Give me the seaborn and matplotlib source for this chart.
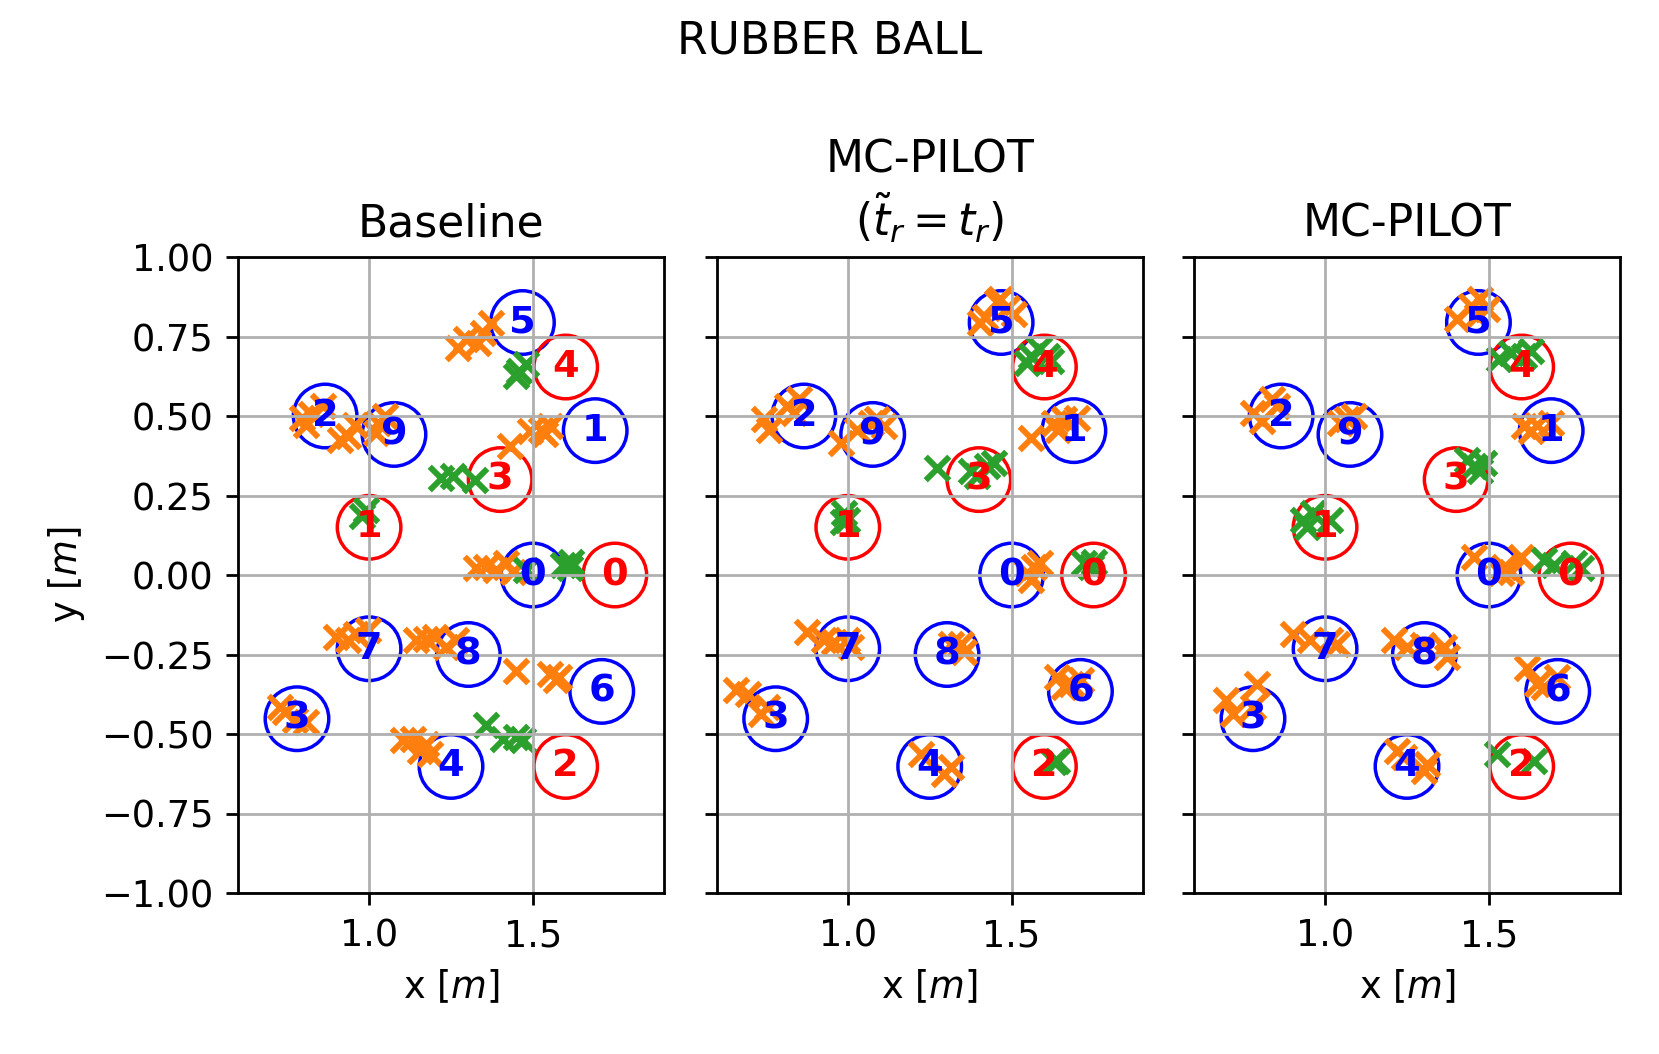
import matplotlib
matplotlib.use("Agg")
import matplotlib.pyplot as plt
import seaborn as sns
import pandas as pd

# ---------------- data ----------------
blue_ids = [0, 1, 2, 3, 4, 5, 6, 7, 8, 9]
blue_x = [1.50, 1.69, 0.866, 0.78, 1.25, 1.468, 1.71, 1.00, 1.303, 1.076]
blue_y = [0.00, 0.454, 0.50, -0.452, -0.602, 0.794, -0.366, -0.232, -0.25, 0.442]

red_ids = [0, 1, 2, 3, 4]
red_x = [1.75, 1.00, 1.60, 1.40, 1.60]
red_y = [0.00, 0.15, -0.602, 0.30, 0.654]

titles = ["Baseline", "MC-PILOT\n($\\tilde{t}_r = t_r$)", "MC-PILOT"]
ytick_vals = [-1.0, -0.75, -0.5, -0.25, 0.0, 0.25, 0.5, 0.75, 1.0]
ytick_labels = ["\u22121.00", "\u22120.75", "\u22120.50", "\u22120.25",
                "0.00", "0.25", "0.50", "0.75", "1.00"]
xtick_vals = [1.0, 1.5]

# Baseline
base_orange_x = [1.271, 1.297, 1.332, 1.348, 1.373,
                 0.794, 0.824, 0.860, 0.809, 0.911, 0.936, 0.956, 1.027, 1.048, 1.022,
                 1.429, 1.490, 1.525, 1.551, 1.536,
                 1.327, 1.358, 1.388, 1.419, 1.439,
                 0.900, 0.936, 0.961, 0.997,
                 1.144, 1.175, 1.200, 1.236, 1.266,
                 1.449, 1.551, 1.571, 1.581,
                 0.728, 0.743, 0.809, 0.773,
                 1.104, 1.134, 1.154, 1.185, 1.175]
base_orange_y = [0.715, 0.741, 0.731, 0.762, 0.794,
                 0.494, 0.505, 0.531, 0.473, 0.426, 0.436, 0.473, 0.478, 0.499, 0.447,
                 0.405, 0.452, 0.457, 0.468, 0.442,
                 0.021, 0.026, 0.016, 0.037, 0.011,
                 -0.195, -0.205, -0.184, -0.173,
                 -0.205, -0.200, -0.195, -0.226, -0.205,
                 -0.303, -0.310, -0.331, -0.321,
                 -0.415, -0.431, -0.463, -0.457,
                 -0.520, -0.515, -0.552, -0.563, -0.531]
base_green_x = [1.459, 1.480, 1.449, 1.221, 1.256, 1.322, 0.977, 0.992,
                1.480, 1.592, 1.617, 1.612, 1.358, 1.408, 1.449, 1.470]
base_green_y = [0.641, 0.662, 0.626, 0.305, 0.310, 0.300, 0.184, 0.205,
                0.016, 0.032, 0.042, 0.021, -0.473, -0.515, -0.510, -0.520]

# MC-PILOT (t~r = tr)
oracle_orange_x = [1.405, 1.456, 1.487, 1.507, 1.466, 1.420,
                   0.745, 0.760, 0.816, 0.852, 0.837,
                   0.979, 1.029, 1.090, 1.111, 1.070,
                   1.558, 1.629, 1.660, 1.700, 1.640,
                   1.548, 1.568, 1.588, 1.558,
                   0.877, 0.928, 0.958, 0.999, 1.009,
                   1.314, 1.355, 1.345,
                   1.639, 1.660, 1.680, 1.711,
                   0.658, 0.694, 0.735, 0.755,
                   1.223, 1.294, 1.314]
oracle_orange_y = [0.794, 0.857, 0.841, 0.820, 0.868, 0.810,
                   0.489, 0.457, 0.531, 0.552, 0.510,
                   0.415, 0.457, 0.489, 0.468, 0.478,
                   0.431, 0.478, 0.489, 0.494, 0.457,
                   0.005, 0.026, 0.037, -0.016,
                   -0.179, -0.205, -0.210, -0.205, -0.226,
                   -0.216, -0.242, -0.216,
                   -0.321, -0.352, -0.342, -0.331,
                   -0.363, -0.373, -0.436, -0.415,
                   -0.563, -0.626, -0.605]
oracle_green_x = [1.558, 1.583, 1.608, 1.548, 1.619,
                  1.273, 1.375, 1.426, 1.446, 1.395,
                  0.989, 0.999, 0.984,
                  1.720, 1.741, 1.751,
                  1.629, 1.639]
oracle_green_y = [0.689, 0.710, 0.689, 0.668, 0.673,
                  0.336, 0.326, 0.342, 0.352, 0.310,
                  0.195, 0.174, 0.168,
                  0.037, 0.026, 0.042,
                  -0.589, -0.584]

# MC-PILOT
mc_orange_x = [1.403, 1.444, 1.474, 1.495, 1.464,
               0.781, 0.806, 0.837, 0.852,
               1.046, 1.087, 1.066,
               1.607, 1.648, 1.689, 1.628,
               1.454, 1.546, 1.566, 1.597, 1.536,
               0.903, 0.954, 1.015, 1.036,
               1.209, 1.250, 1.362, 1.372, 1.300,
               1.617, 1.648, 1.668, 1.709,
               0.699, 0.720, 0.791, 0.781,
               1.219, 1.240, 1.301, 1.311]
mc_orange_y = [0.804, 0.846, 0.868, 0.836, 0.815,
               0.510, 0.484, 0.552, 0.531,
               0.478, 0.499, 0.489,
               0.468, 0.473, 0.478, 0.452,
               0.058, 0.026, 0.011, 0.058, 0.005,
               -0.184, -0.205, -0.205, -0.216,
               -0.205, -0.226, -0.226, -0.258, -0.220,
               -0.294, -0.342, -0.352, -0.321,
               -0.394, -0.436, -0.342, -0.415,
               -0.552, -0.573, -0.615, -0.594]
mc_green_x = [1.531, 1.566, 1.628, 1.607,
              1.434, 1.454, 1.474, 1.485,
              0.934, 0.964, 1.015, 0.944,
              1.668, 1.699, 1.760, 1.781,
              1.526, 1.638]
mc_green_y = [0.678, 0.699, 0.705, 0.689,
              0.363, 0.342, 0.326, 0.352,
              0.174, 0.195, 0.174, 0.152,
              0.047, 0.032, 0.037, 0.021,
              -0.563, -0.584]

panels = [
    (base_orange_x, base_orange_y, base_green_x, base_green_y),
    (oracle_orange_x, oracle_orange_y, oracle_green_x, oracle_green_y),
    (mc_orange_x, mc_orange_y, mc_green_x, mc_green_y),
]

# ---------------- figure ----------------
DPI = 250
fig = plt.figure(figsize=(1659 / DPI, 1054 / DPI), dpi=DPI)

W, H = 1659, 1054
lefts = [238, 716.7, 1194]
ax_w = 426
top_px, bot_px = 257, 893

FS = 10.6     # tick / label size
TFS = 12.7    # title size

blue_df = pd.DataFrame({"x": blue_x, "y": blue_y, "id": blue_ids})
red_df = pd.DataFrame({"x": red_x, "y": red_y, "id": red_ids})

for i, (ox, oy, gx, gy) in enumerate(panels):
    ax = fig.add_axes([lefts[i] / W, 1 - bot_px / H, ax_w / W, (bot_px - top_px) / H])
    # target circles
    sns.scatterplot(data=blue_df, x="x", y="y", ax=ax, marker="o", s=335,
                    facecolor="none", edgecolor="blue", linewidth=1.0, legend=False)
    sns.scatterplot(data=red_df, x="x", y="y", ax=ax, marker="o", s=335,
                    facecolor="none", edgecolor="red", linewidth=1.0, legend=False)
    # landing points
    sns.scatterplot(x=ox, y=oy, ax=ax, marker="x", s=46, color="tab:orange",
                    linewidth=1.7, legend=False)
    sns.scatterplot(x=gx, y=gy, ax=ax, marker="x", s=46, color="tab:green",
                    linewidth=1.7, legend=False)
    for _, r in blue_df.iterrows():
        ax.text(r["x"], r["y"], str(int(r["id"])), color="blue", fontweight="bold",
                fontsize=11, ha="center", va="center")
    for _, r in red_df.iterrows():
        ax.text(r["x"], r["y"], str(int(r["id"])), color="red", fontweight="bold",
                fontsize=11, ha="center", va="center")

    ax.set_xlim(0.6, 1.9)
    ax.set_ylim(-1.0, 1.0)
    ax.set_xticks(xtick_vals)
    ax.set_yticks(ytick_vals)
    ax.grid(True, color="#b0b0b0", linewidth=0.8)
    ax.set_title(titles[i], fontsize=TFS)
    ax.set_xlabel("x [$m$]", fontsize=FS)
    if i == 0:
        ax.set_ylabel("y [$m$]", fontsize=FS)
        ax.set_yticklabels(ytick_labels)
    else:
        ax.set_ylabel("")
        ax.tick_params(labelleft=False)
    ax.tick_params(labelsize=FS)

fig.text(0.5, 1 - 54 / H, "RUBBER BALL", ha="center", va="baseline", fontsize=TFS)

fig.savefig("out.png", dpi=DPI)
